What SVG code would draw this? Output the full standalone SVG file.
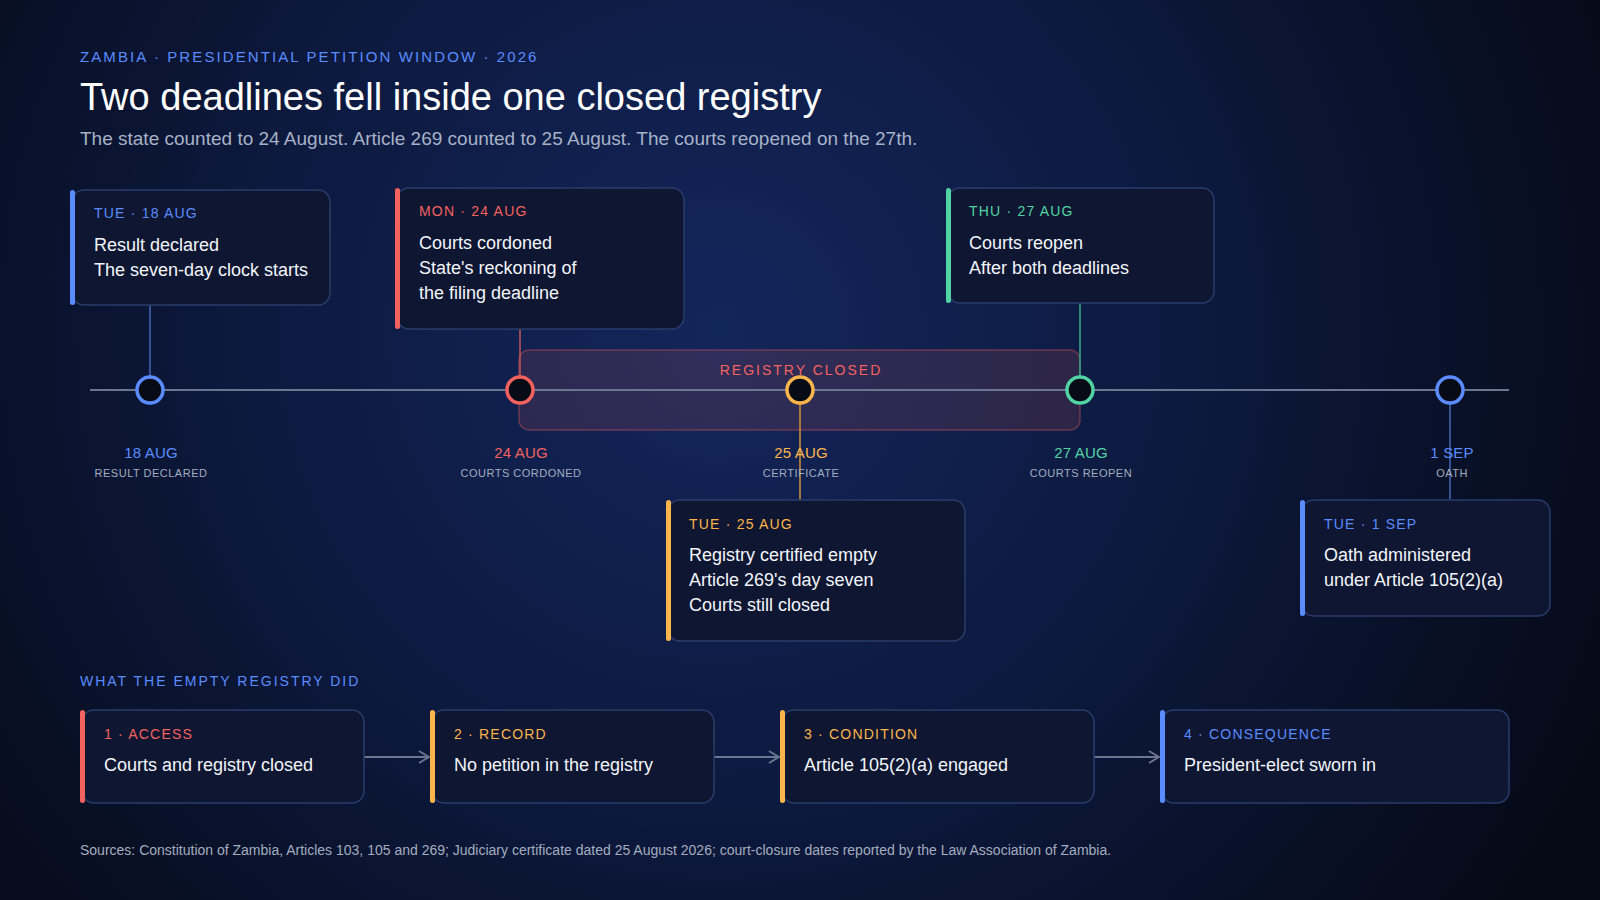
<svg xmlns="http://www.w3.org/2000/svg" width="1600" height="900" viewBox="0 0 1600 900">
<defs>
<radialGradient id="bg" cx="720" cy="330" r="1000" gradientUnits="userSpaceOnUse">
<stop offset="0" stop-color="#13265b"/>
<stop offset="0.45" stop-color="#0d1a40"/>
<stop offset="1" stop-color="#050914"/>
</radialGradient>
<marker id="chev" viewBox="0 0 12 14" refX="11" refY="7" markerWidth="12" markerHeight="14" markerUnits="userSpaceOnUse" orient="auto">
<path d="M1 1 L11 7 L1 13" fill="none" stroke="#6b7690" stroke-width="2"/>
</marker>
<style>
text{font-family:"Liberation Sans",Arial,Helvetica,sans-serif}
.card{fill:#0e1631;stroke:#283d6b;stroke-width:1.5}
.bar{stroke:none}
.hd{font-size:14px;letter-spacing:1.2px}
.bd{font-size:18px;fill:#f2f5fb}
.dl{font-size:15px;text-anchor:middle;letter-spacing:0.2px}
.sl{font-size:11px;text-anchor:middle;fill:#a3adbf;letter-spacing:0.5px}
.dot{fill:#070b16;stroke-width:3.5}
.stem{stroke-width:1.6;fill:none}
.arr{stroke:#6b7690;stroke-width:2;fill:none}
.blue{fill:#5b8cff}.red{fill:#f4625f}.amber{fill:#fbb54a}.green{fill:#52d3a3}
</style>
</defs>
<rect x="0" y="0" width="1600" height="900" fill="url(#bg)"/>

<g id="header">
<text x="80" y="62" font-size="15" letter-spacing="2.1" class="blue">ZAMBIA · PRESIDENTIAL PETITION WINDOW · 2026</text>
<text x="80" y="110" font-size="38" fill="#ffffff">Two deadlines fell inside one closed registry</text>
<text x="80" y="145" font-size="19" fill="#a7b2c6">The state counted to 24 August. Article 269 counted to 25 August. The courts reopened on the 27th.</text>
</g>

<g id="registry-band">
<rect x="519" y="350" width="561" height="80" rx="10" fill="#f4625f" fill-opacity="0.13" stroke="#f4625f" stroke-opacity="0.35" stroke-width="1.5"/>
<text x="801" y="375" font-size="14" letter-spacing="2" text-anchor="middle" class="red">REGISTRY CLOSED</text>
</g>

<g id="connectors">
<line x1="90" y1="390" x2="1509" y2="390" stroke="#6b7690" stroke-width="2"/>
<line class="stem" x1="150" y1="305" x2="150" y2="376" stroke="#3f63ad"/>
<line class="stem" x1="520" y1="329" x2="520" y2="376" stroke="#b8525a"/>
<line class="stem" x1="1080" y1="303" x2="1080" y2="376" stroke="#3aa486"/>
<line class="stem" x1="800" y1="404" x2="800" y2="500" stroke="#c48b3c"/>
<line class="stem" x1="1450" y1="404" x2="1450" y2="500" stroke="#3f63ad"/>
<line class="arr" x1="364" y1="757" x2="429" y2="757" marker-end="url(#chev)"/>
<line class="arr" x1="714" y1="757" x2="779" y2="757" marker-end="url(#chev)"/>
<line class="arr" x1="1094" y1="757" x2="1159" y2="757" marker-end="url(#chev)"/>
</g>

<g id="m-18aug">
<circle class="dot" cx="150" cy="390" r="13" stroke="#5b8cff"/>
<text x="151" y="458" class="dl blue">18 AUG</text>
<text x="151" y="477" class="sl">RESULT DECLARED</text>
</g>
<g id="m-24aug">
<circle class="dot" cx="520" cy="390" r="13" stroke="#f4625f"/>
<text x="521" y="458" class="dl red">24 AUG</text>
<text x="521" y="477" class="sl">COURTS CORDONED</text>
</g>
<g id="m-25aug">
<circle class="dot" cx="800" cy="390" r="13" stroke="#fbb54a"/>
<text x="801" y="458" class="dl amber">25 AUG</text>
<text x="801" y="477" class="sl">CERTIFICATE</text>
</g>
<g id="m-27aug">
<circle class="dot" cx="1080" cy="390" r="13" stroke="#52d3a3"/>
<text x="1081" y="458" class="dl green">27 AUG</text>
<text x="1081" y="477" class="sl">COURTS REOPEN</text>
</g>
<g id="m-1sep">
<circle class="dot" cx="1450" cy="390" r="13" stroke="#5b8cff"/>
<text x="1452" y="458" class="dl blue">1 SEP</text>
<text x="1452" y="477" class="sl">OATH</text>
</g>

<g id="card-18aug">
<rect class="card" x="72" y="190" width="258" height="115" rx="12"/>
<rect class="bar blue" x="70" y="190" width="5" height="115" rx="2.5"/>
<text x="94" y="218" class="hd blue">TUE · 18 AUG</text>
<text x="94" y="251" class="bd">Result declared</text>
<text x="94" y="276" class="bd">The seven-day clock starts</text>
</g>
<g id="card-24aug">
<rect class="card" x="397" y="188" width="287" height="141" rx="12"/>
<rect class="bar red" x="395" y="188" width="5" height="141" rx="2.5"/>
<text x="419" y="216" class="hd red">MON · 24 AUG</text>
<text x="419" y="249" class="bd">Courts cordoned</text>
<text x="419" y="274" class="bd">State's reckoning of</text>
<text x="419" y="299" class="bd">the filing deadline</text>
</g>
<g id="card-27aug">
<rect class="card" x="948" y="188" width="266" height="115" rx="12"/>
<rect class="bar green" x="946" y="188" width="5" height="115" rx="2.5"/>
<text x="969" y="216" class="hd green">THU · 27 AUG</text>
<text x="969" y="249" class="bd">Courts reopen</text>
<text x="969" y="274" class="bd">After both deadlines</text>
</g>
<g id="card-25aug">
<rect class="card" x="668" y="500" width="297" height="141" rx="12"/>
<rect class="bar amber" x="666" y="500" width="5" height="141" rx="2.5"/>
<text x="689" y="529" class="hd amber">TUE · 25 AUG</text>
<text x="689" y="561" class="bd">Registry certified empty</text>
<text x="689" y="586" class="bd">Article 269's day seven</text>
<text x="689" y="611" class="bd">Courts still closed</text>
</g>
<g id="card-1sep">
<rect class="card" x="1302" y="500" width="248" height="116" rx="12"/>
<rect class="bar blue" x="1300" y="500" width="5" height="116" rx="2.5"/>
<text x="1324" y="529" class="hd blue">TUE · 1 SEP</text>
<text x="1324" y="561" class="bd">Oath administered</text>
<text x="1324" y="586" class="bd">under Article 105(2)(a)</text>
</g>

<g id="chain-title">
<text x="80" y="686" font-size="14" letter-spacing="2" class="blue">WHAT THE EMPTY REGISTRY DID</text>
</g>
<g id="step-1">
<rect class="card" x="82" y="710" width="282" height="93" rx="12"/>
<rect class="bar red" x="80" y="710" width="5" height="93" rx="2.5"/>
<text x="104" y="739" class="hd red">1 · ACCESS</text>
<text x="104" y="771" class="bd">Courts and registry closed</text>
</g>
<g id="step-2">
<rect class="card" x="432" y="710" width="282" height="93" rx="12"/>
<rect class="bar amber" x="430" y="710" width="5" height="93" rx="2.5"/>
<text x="454" y="739" class="hd amber">2 · RECORD</text>
<text x="454" y="771" class="bd">No petition in the registry</text>
</g>
<g id="step-3">
<rect class="card" x="782" y="710" width="312" height="93" rx="12"/>
<rect class="bar amber" x="780" y="710" width="5" height="93" rx="2.5"/>
<text x="804" y="739" class="hd amber">3 · CONDITION</text>
<text x="804" y="771" class="bd">Article 105(2)(a) engaged</text>
</g>
<g id="step-4">
<rect class="card" x="1162" y="710" width="347" height="93" rx="12"/>
<rect class="bar blue" x="1160" y="710" width="5" height="93" rx="2.5"/>
<text x="1184" y="739" class="hd blue">4 · CONSEQUENCE</text>
<text x="1184" y="771" class="bd">President-elect sworn in</text>
</g>

<g id="sources">
<text x="80" y="855" font-size="14" fill="#a3adbf">Sources: Constitution of Zambia, Articles 103, 105 and 269; Judiciary certificate dated 25 August 2026; court-closure dates reported by the Law Association of Zambia.</text>
</g>
</svg>
